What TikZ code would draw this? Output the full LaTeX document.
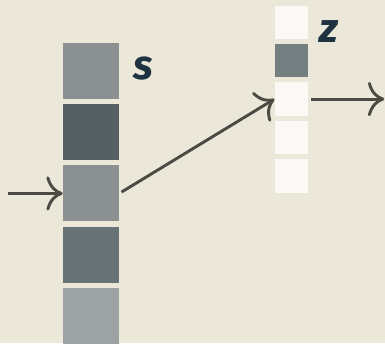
\documentclass[tikz,border=0pt]{standalone}
\usepackage{fontspec}
\setsansfont{Fira Sans}
\usepackage{tikz}
\usetikzlibrary{positioning,arrows.meta,calc}
\usepackage{xcolor}
\definecolor{paper}{HTML}{ECE8D9}
\definecolor{ink}{HTML}{4B4A43}
\definecolor{labelblue}{HTML}{1E3240}
\definecolor{sA}{HTML}{8A9190}
\definecolor{sB}{HTML}{566064}
\definecolor{sC}{HTML}{677377}
\definecolor{sD}{HTML}{9DA2A3}
\definecolor{zoff}{HTML}{FAF9F5}
\definecolor{zon}{HTML}{757F81}

\begin{document}
\begin{tikzpicture}[
  x=0.75pt, y=-0.75pt,
  node distance=3.4pt,
  scell/.style={minimum width=42pt, minimum height=42pt, inner sep=0pt},
  zcell/.style={minimum width=25pt, minimum height=25pt, inner sep=0pt},
  lbl/.style={font=\sffamily\bfseries\itshape\fontsize{31}{31}\selectfont,
              text=labelblue, inner sep=0pt, anchor=base west},
  arr/.style={-{To[scale=1.9]}, line width=2.2pt, draw=ink}
]
\fill[paper] (0,0) rectangle (385,343);
\useasboundingbox (0,0) rectangle (385,343);

% left column s
\node[scell, fill=sA] (s1) at (91,71.3) {};
\node[scell, fill=sB, below=of s1] (s2) {};
\node[scell, fill=sA, below=of s2] (s3) {};
\node[scell, fill=sC, below=of s3] (s4) {};
\node[scell, fill=sD, below=of s4] (s5) {};

% right column z
\node[zcell, fill=zoff] (z1) at (291.3,22.3) {};
\node[zcell, fill=zon, below=of z1] (z2) {};
\node[zcell, fill=zoff, below=of z2] (z3) {};
\node[zcell, fill=zoff, below=of z3] (z4) {};
\node[zcell, fill=zoff, below=of z4] (z5) {};

% labels
\node[lbl] (slabel) at ($(s1.north east)+(14,36)$) {s};
\node[lbl] (zlabel) at ($(z1.north east)+(11,37)$) {z};

% connectors
\coordinate (in) at ($(s3.west)+(-55,0)$);
\coordinate (out) at ($(z3.east)+(76,0)$);
\draw[arr] (in) -- (s3.west);
\draw[arr, shorten <=2pt] (s3.east) -- (z3.west);
\draw[arr, shorten <=2pt] (z3.east) -- (out);
\end{tikzpicture}
\end{document}
